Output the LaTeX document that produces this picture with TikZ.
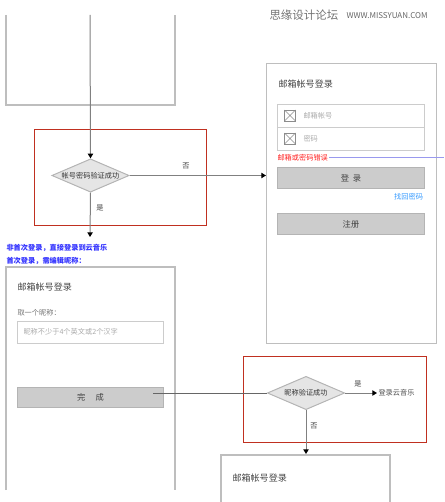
\documentclass[tikz,border=0pt]{standalone}
\usepackage{fontspec}
\setmainfont{Noto Sans CJK SC}
\usetikzlibrary{shapes.geometric,arrows.meta}

\definecolor{panelgray}{RGB}{190,190,190}
\definecolor{btnfill}{RGB}{204,204,204}
\definecolor{btnline}{RGB}{180,180,180}
\definecolor{focusred}{RGB}{192,48,32}
\definecolor{hintblue}{RGB}{51,51,255}
\definecolor{linkblue}{RGB}{51,153,255}
\definecolor{errred}{RGB}{255,34,34}
\definecolor{linepurple}{RGB}{153,153,238}
\definecolor{holdgray}{RGB}{170,170,170}
\definecolor{titlegray}{RGB}{68,68,68}

\tikzset{every picture/.style={line width=0.75pt}}

\begin{document}
\begin{tikzpicture}[x=0.75pt,y=0.75pt,yscale=-1,xscale=1,
	panel/.style={draw=panelgray, line width=0.8pt},
	focus/.style={draw=focusred, line width=0.65pt},
	decision/.style={diamond, draw=btnline, fill=black!10, aspect=2.3, inner sep=0pt,
		minimum width=58pt, minimum height=25pt, font=\fontsize{5.4}{6}\selectfont, text=black!80},
	btn/.style={draw=btnline, fill=btnfill, inner sep=0pt, minimum width=110.25pt,
		minimum height=15.75pt, font=\fontsize{6.2}{7}\selectfont, text=black!75},
	field/.style={draw=black!20, inner sep=0pt, minimum width=110.25pt, minimum height=17.25pt},
	chkbox/.style={draw=black!45, line width=0.5pt, inner sep=0pt, minimum size=8.25pt,
		path picture={\draw[black!45, line width=0.5pt] (path picture bounding box.south west) -- (path picture bounding box.north east)
			(path picture bounding box.north west) -- (path picture bounding box.south east);}},
	title/.style={font=\fontsize{6.8}{8}\selectfont, text=titlegray, inner sep=0.75pt},
	small/.style={font=\fontsize{5.4}{6.5}\selectfont, inner sep=0.75pt},
	flow/.style={draw=black!50, -{Triangle[length=3.5pt,width=4pt,color=black]}},
	]
	\useasboundingbox (0,0) rectangle (444,502);
	
	% Watermark
	\node[anchor=west, inner sep=0pt, font=\fontsize{8.6}{9}\selectfont, text=black!55] (mark) at (269,15) {思缘设计论坛};
	\node[anchor=west, inner sep=0pt, font=\fontsize{6}{6}\selectfont, text=black!60] (site) at (346,16) {WWW.MISSYUAN.COM};
	
	%Top panel (cut off)
	\draw[panel] (6,15) -- (6,105) -- (175,105) -- (175,15);
	\coordinate (start) at (90,15);
	
	%Focus rectangles
	\draw[focus] (34,129) rectangle (206,225);
	\draw[focus] (243,356) rectangle (426,442);
	
	% Decision nodes
	\node[decision] (check1) at (90.5,175.5) {帐号密码验证成功};
	\node[decision] (check2) at (306,393) {昵称验证成功};
	
	%Login panel
	\node[panel, anchor=north west, inner sep=0pt, minimum width=127.5pt, minimum height=210pt] (loginpanel) at (266,63) {};
	\node[title, anchor=west] (logintitle) at (277,84) {邮箱帐号登录};
	\node[field, anchor=north west] (mailfield) at (277,104) {};
	\node[field, anchor=north west] (pwdfield) at (277,127) {};
	\node[chkbox] (mailicon) at (290,115.5) {};
	\node[chkbox] (pwdicon) at (290,138.5) {};
	\node[small, anchor=west, text=holdgray] (mailhold) at (302,115.5) {邮箱帐号};
	\node[small, anchor=west, text=holdgray] (pwdhold) at (302,138.5) {密码};
	\node[small, anchor=west, text=errred] (err) at (276,157.5) {邮箱或密码错误};
	\coordinate (errend) at (444,157.5);
	\draw[linepurple, line width=0.6pt] (err.east) -- (errend);
	\node[btn, anchor=north west] (login) at (277,167) {登\ \ 录};
	\node[small, anchor=east, text=linkblue] (forgot) at (424.5,197) {找回密码};
	\node[btn, anchor=north west] (register) at (277,213) {注册};
	
	% Hint text
	\node[small, anchor=north west, align=left, text=hintblue, font=\fontsize{5.4}{9.5}\selectfont\bfseries] (hint) at (5,243) {非首次登录，直接登录到云音乐\\首次登录，需编辑昵称：};
	\coordinate (hinttop) at (90,237);
	
	%Nickname panel (cut off)
	\draw[panel] (6,490) -- (6,267) -- (175,267) -- (175,490);
	\node[title, anchor=west] (nicktitle) at (16,287) {邮箱帐号登录};
	\node[small, anchor=west, text=black!55] (nickask) at (16,313) {取一个昵称：};
	\node[field, anchor=north west, minimum width=109.5pt, minimum height=16.5pt] (nickfield) at (17,321) {};
	\node[small, anchor=west, text=holdgray] (nickhold) at (22,332) {昵称不少于4个英文或2个汉字};
	\node[btn, anchor=north west, minimum width=109.5pt, minimum height=15pt] (done) at (17,387) {完\quad\ 成};
	\coordinate (donestart) at (153,393);
	
	%Last panel (cut off)
	\draw[panel] (221,502) -- (221,455) -- (390,455) -- (390,502);
	\coordinate (lasttop) at (306,454);
	\node[title, anchor=west] (lasttitle) at (231,478) {邮箱帐号登录};
	
	% Music text
	\node[small, anchor=west, text=black!70] (music) at (377,393) {登录云音乐};
	
	%Connectors
	\draw[flow] (start) -- (check1.north);
	\draw[flow] (check1.east) -- (check1.east -| loginpanel.west);
	\draw[flow] (check1.south) -- (hinttop);
	\draw[draw=black!60] (donestart) -- (check2.west);
	\draw[flow] (check2.east) -- (music.west);
	\draw[flow] (check2.south) -- (lasttop);
	
	% Text Node
	\node[small, text=black!75] (no1) at (186,166) {否};
	\node[small, text=black!75] (yes1) at (100,208) {是};
	\node[small, text=black!75] (yes2) at (358,384) {是};
	\node[small, text=black!75] (no2) at (314,426) {否};
	
\end{tikzpicture}
\end{document}
